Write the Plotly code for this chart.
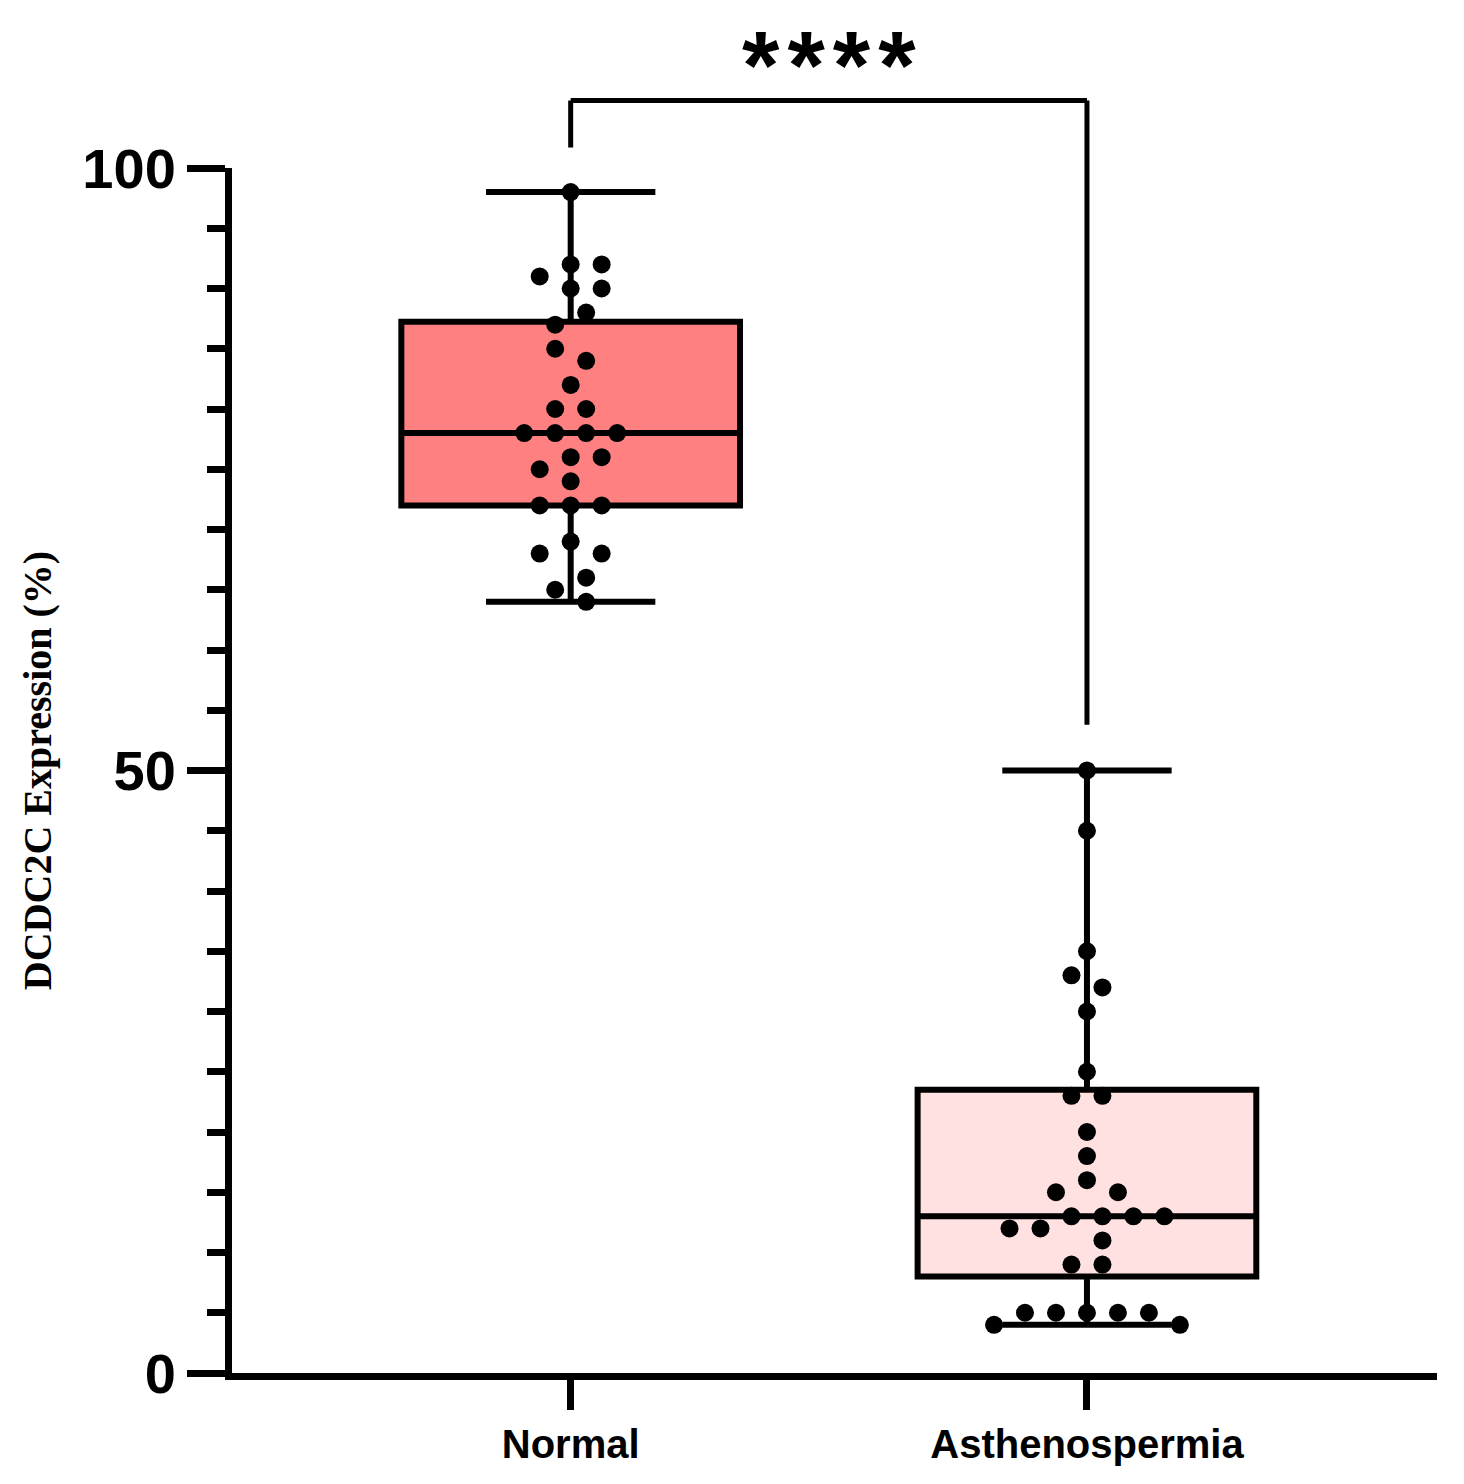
import numpy as np
import plotly.graph_objects as go

# ---------------- data ----------------
categories = ["Normal", "Asthenospermia"]
normal_values = [98, 92, 92, 91, 90, 90, 88, 87, 85, 84, 82, 80, 80, 78, 78, 78, 78,
                 76, 76, 75, 74, 72, 72, 72, 69, 68, 68, 66, 65, 64]
astheno_values = [50, 45, 35, 33, 32, 30, 25, 23, 23, 20, 18, 16, 15, 15, 13, 13, 13, 13,
                  12, 12, 11, 9, 9, 5, 5, 5, 5, 5, 4, 4]
y_tick_values = [0, 50, 100]
y_tick_labels = ["0", "50", "100"]
significance_label = "*\u200a*\u200a*\u200a*"

series = [normal_values, astheno_values]
fills = ["#FF8080", "#FFE1E1"]

# ---------------- style constants ----------------
X_RANGE = [-0.656, 1.678]
Y_RANGE = [0, 100]
BOX_WIDTH = 0.656
SLOT = 0.0300          # horizontal step of the dot swarm (x data units, half dot spacing)
BRACKET_TOP = 105.6
BRACKET_LEFT_END = 101.7
BRACKET_RIGHT_END = 53.8
STAR_TOP = 113.1


def swarm_slots(values, min_dv=1.5, min_ds=2):
    """Deterministic beeswarm: slot index for each value, avoiding overlaps."""
    n = len(values)
    order = sorted(range(n), key=lambda i: -values[i])
    placed = []
    slots = [0] * n
    toggle = 1
    for i in order:
        v = values[i]
        neigh = [s for (pv, s) in placed if abs(pv - v) < min_dv]
        chosen = None
        for k in range(0, 60):
            cands = [0] if k == 0 else [k, -k]
            ok = [c for c in cands if all(abs(c - s) >= min_ds for s in neigh)]
            if ok:
                if len(ok) == 1:
                    chosen = ok[0]
                else:
                    tot = sum(neigh)
                    if tot > 0:
                        chosen = -k
                    elif tot < 0:
                        chosen = k
                    else:
                        chosen = k * toggle
                        toggle = -toggle
                break
        slots[i] = chosen
        placed.append((v, chosen))
    # centre every chain of neighbouring values
    idx = sorted(range(n), key=lambda i: values[i])
    comps, cur = [], [idx[0]]
    for a, b in zip(idx[:-1], idx[1:]):
        if abs(values[b] - values[a]) < min_dv:
            cur.append(b)
        else:
            comps.append(cur)
            cur = [b]
    comps.append(cur)
    for comp in comps:
        shift = int(np.round(np.mean([slots[i] for i in comp])))
        for i in comp:
            slots[i] -= shift
    return slots


def to_paper_x(v):
    return (v - X_RANGE[0]) / (X_RANGE[1] - X_RANGE[0])


def to_paper_y(v):
    return (v - Y_RANGE[0]) / (Y_RANGE[1] - Y_RANGE[0])


fig = go.Figure()

for ci, (name, vals) in enumerate(zip(categories, series)):
    arr = np.array(vals, dtype=float)
    q1, med, q3 = np.percentile(arr, [25, 50, 75], method="weibull")
    fig.add_trace(go.Box(
        x=[ci], q1=[q1], median=[med], q3=[q3],
        lowerfence=[arr.min()], upperfence=[arr.max()],
        width=BOX_WIDTH, whiskerwidth=0.5,
        fillcolor=fills[ci], line=dict(color="black", width=6),
        boxpoints=False, name=name, showlegend=False, hoverinfo="skip",
    ))

for ci, vals in enumerate(series):
    slots = swarm_slots(vals)
    xs = [ci + s * SLOT for s in slots]
    fig.add_trace(go.Scatter(
        x=xs, y=vals, mode="markers",
        marker=dict(color="black", size=18, line=dict(width=0)),
        showlegend=False, hoverinfo="y", cliponaxis=False,
    ))

# significance bracket
px0, px1 = to_paper_x(0), to_paper_x(1)
for (xa, ya, xb, yb) in [
    (px0, to_paper_y(BRACKET_LEFT_END), px0, to_paper_y(BRACKET_TOP)),
    (px0, to_paper_y(BRACKET_TOP), px1, to_paper_y(BRACKET_TOP)),
    (px1, to_paper_y(BRACKET_TOP), px1, to_paper_y(BRACKET_RIGHT_END)),
]:
    fig.add_shape(type="line", xref="paper", yref="paper", x0=xa, y0=ya, x1=xb, y1=yb,
                  line=dict(color="black", width=5))

fig.add_annotation(x=to_paper_x(0.5), y=to_paper_y(STAR_TOP), xref="paper", yref="paper",
                   text=significance_label, showarrow=False, xanchor="center", yanchor="top",
                   borderpad=0,
                   font=dict(family="Liberation Sans", size=96, color="black", weight="bold"))

fig.update_layout(
    width=1464, height=1484,
    margin=dict(l=224, r=35, t=160, b=119),
    plot_bgcolor="white", paper_bgcolor="white",
    showlegend=False,
    xaxis=dict(
        range=X_RANGE, tickvals=[0, 1], ticktext=categories,
        showline=True, linewidth=7, linecolor="black",
        ticks="outside", ticklen=30, tickwidth=7, tickcolor="black",
        showgrid=False, zeroline=False,
        tickfont=dict(family="Liberation Sans", size=40, color="black", weight="bold"),
    ),
    yaxis=dict(
        range=Y_RANGE, tickvals=y_tick_values, ticktext=y_tick_labels,
        showline=True, linewidth=7, linecolor="black",
        ticks="outside", ticklen=38, tickwidth=7, tickcolor="black",
        minor=dict(dtick=5, ticks="outside", ticklen=18, tickwidth=7, tickcolor="black"),
        showgrid=False, zeroline=False,
        tickfont=dict(family="Liberation Sans", size=56, color="black", weight="bold"),
        title=dict(text="DCDC2C Expression (%)", standoff=21,
                   font=dict(family="Liberation Serif", size=40, color="black", weight="bold")),
    ),
)

fig.write_html("out.html")
